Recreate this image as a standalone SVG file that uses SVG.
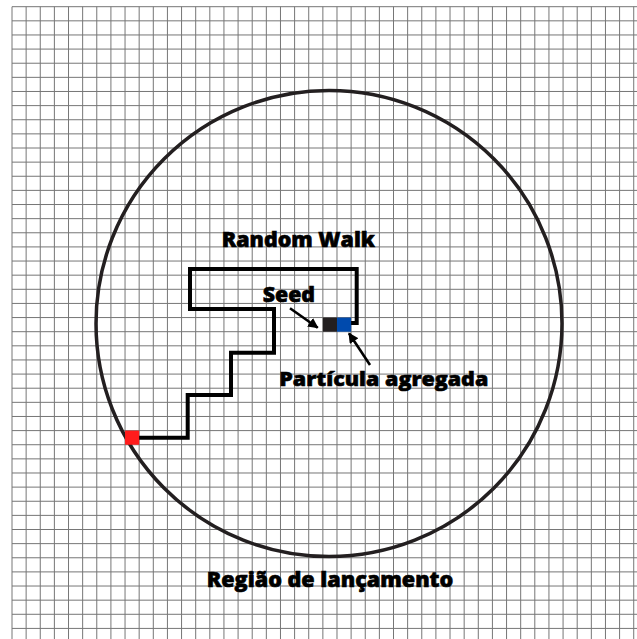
<svg xmlns="http://www.w3.org/2000/svg" width="637" height="639" viewBox="0 0 637 639">
<defs>
<style>
.grid{stroke:#767676;stroke-width:1;fill:none}
.walk{stroke:#000;stroke-width:4;fill:none;stroke-linejoin:miter}
.ring{stroke:#231f20;stroke-width:3.5;fill:none}
.arrow{stroke:#000;stroke-width:2.6;fill:none}
.lbl{font-family:"Open Sans","Liberation Sans",sans-serif;font-weight:800;fill:#000;stroke:#000;stroke-width:0.6}
</style>
<marker id="ah" viewBox="0 0 10 10" refX="9" refY="5" markerWidth="4" markerHeight="4" markerUnits="strokeWidth" orient="auto">
<path d="M0,0 L10,5 L0,10 Z" fill="#000"/>
</marker>
</defs>
<rect width="637" height="639" fill="#fff"/>
<g id="grid" class="grid">
<path d="M12,6.7V639M26.13,6.7V639M40.26,6.7V639M54.39,6.7V639M68.52,6.7V639M82.65,6.7V639M96.78,6.7V639M110.91,6.7V639M125.04,6.7V639M139.17,6.7V639M153.3,6.7V639M167.43,6.7V639M181.56,6.7V639M195.69,6.7V639M209.82,6.7V639M223.95,6.7V639M238.08,6.7V639M252.21,6.7V639M266.34,6.7V639M280.47,6.7V639M294.6,6.7V639M308.73,6.7V639M322.86,6.7V639M336.99,6.7V639M351.12,6.7V639M365.25,6.7V639M379.38,6.7V639M393.51,6.7V639M407.64,6.7V639M421.77,6.7V639M435.9,6.7V639M450.03,6.7V639M464.16,6.7V639M478.29,6.7V639M492.42,6.7V639M506.55,6.7V639M520.68,6.7V639M534.81,6.7V639M548.94,6.7V639M563.07,6.7V639M577.2,6.7V639M591.33,6.7V639M605.46,6.7V639M619.59,6.7V639M633.72,6.7V639"/>
<path d="M12,6.7H637M12,20.83H637M12,34.96H637M12,49.09H637M12,63.22H637M12,77.35H637M12,91.48H637M12,105.61H637M12,119.74H637M12,133.87H637M12,148H637M12,162.13H637M12,176.26H637M12,190.39H637M12,204.52H637M12,218.65H637M12,232.78H637M12,246.91H637M12,261.04H637M12,275.17H637M12,289.3H637M12,303.43H637M12,317.56H637M12,331.69H637M12,345.82H637M12,359.95H637M12,374.08H637M12,388.21H637M12,402.34H637M12,416.47H637M12,430.6H637M12,444.73H637M12,458.86H637M12,472.99H637M12,487.12H637M12,501.25H637M12,515.38H637M12,529.51H637M12,543.64H637M12,557.77H637M12,571.9H637M12,586.03H637M12,600.16H637M12,614.29H637M12,628.42H637"/>
</g>
<g id="launch-region">
<circle class="ring" cx="329" cy="323.5" r="233"/>
<text class="lbl" x="206.7" y="587.3" font-size="20.5" textLength="246.6" lengthAdjust="spacingAndGlyphs">Região de lançamento</text>
</g>
<g id="random-walk">
<path class="walk" d="M139,437.7H187.7V395H231V352.7H274V309H190V269H356.7V323H350.7"/>
<text class="lbl" x="221.7" y="246.7" font-size="20.5" textLength="153.3" lengthAdjust="spacingAndGlyphs">Random Walk</text>
</g>
<g id="start">
<rect x="125.04" y="430.6" width="14.13" height="14.13" fill="#ff1c1c"/>
</g>
<g id="seed">
<rect x="322.86" y="317.56" width="14.13" height="14.13" fill="#231f20"/>
<text class="lbl" x="262.7" y="302.3" font-size="20.5" textLength="52.3" lengthAdjust="spacingAndGlyphs">Seed</text>
</g>
<g id="aggregated">
<rect x="336.99" y="317.56" width="14.13" height="14.13" fill="#004aad"/>
<text class="lbl" x="279.3" y="385.7" font-size="20" textLength="209" lengthAdjust="spacingAndGlyphs">Partícula agregada</text>
</g>
<g id="connectors">
<line class="arrow" x1="290" y1="308.3" x2="317.7" y2="327.7" marker-end="url(#ah)"/>
<line class="arrow" x1="370" y1="365" x2="349" y2="333.3" marker-end="url(#ah)"/>
</g>
</svg>
